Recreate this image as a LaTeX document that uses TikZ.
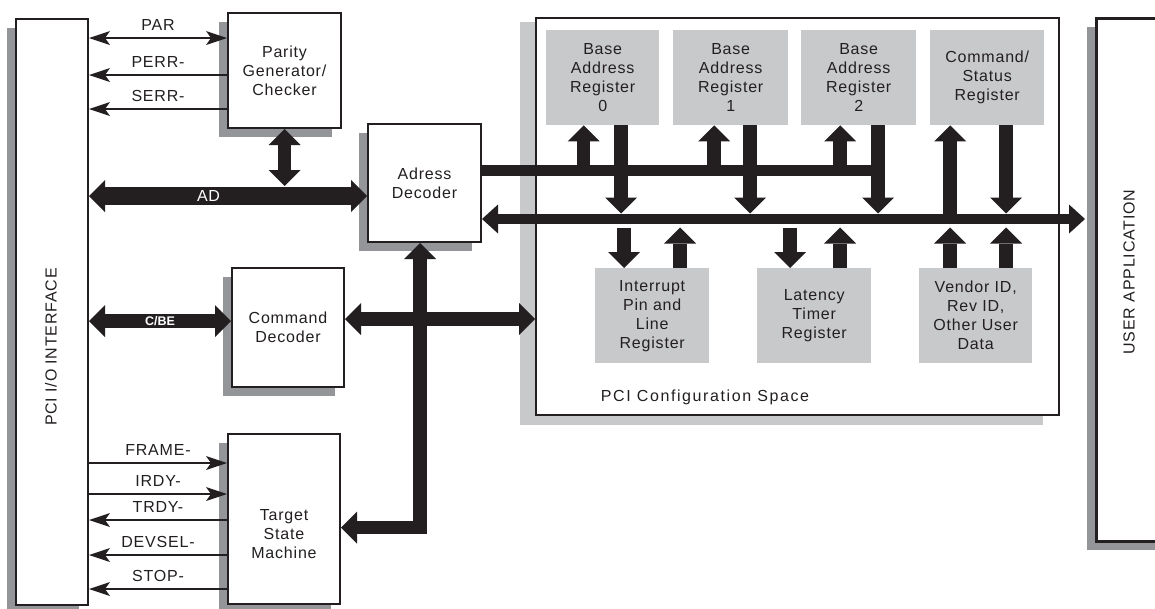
\documentclass[tikz,border=0pt]{standalone}
\usepackage{fontspec}
\setmainfont{Liberation Sans}
\newfontfamily\boxfont[LetterSpace=5]{Liberation Sans}
\newfontfamily\spacedfont[LetterSpace=10]{Liberation Sans}
\usetikzlibrary{arrows.meta,shadows}
\definecolor{ink}{HTML}{231F20}
\definecolor{shdark}{HTML}{939598}
\definecolor{shlight}{HTML}{C8C9CB}
\definecolor{regfill}{HTML}{C8C9CB}
\tikzset{
  Bk/.tip={Triangle[width=32pt,length=16pt,line width=0pt]},
  Lb/.tip={Triangle[width=29pt,length=16pt,line width=0pt]},
  Sg/.tip={Stealth[width=14pt,length=21pt,inset=5pt,line width=0pt]},
  txt/.style={text=ink, inner sep=0pt, align=center, font=\boxfont\fontsize{16pt}{19pt}\selectfont},
  box/.style={txt, draw=ink, line width=2pt, fill=white, anchor=north west,
    general shadow={fill=shdark, shadow xshift=-9pt, shadow yshift=-9pt}},
  frame/.style={draw=ink, line width=2pt, fill=white, anchor=north west, inner sep=0pt},
  reg/.style={txt, fill=regfill, anchor=north west},
  bus/.style={draw=ink, line width=13.5pt, line join=miter},
  adbus/.style={draw=ink, line width=18pt},
  lbus/.style={draw=ink, line width=10.5pt},
  sig/.style={draw=ink, line width=1.4pt},
  lab/.style={midway, above=6.5pt, inner sep=0pt, text=ink, font=\boxfont\fontsize{16pt}{19pt}\selectfont},
}
\begin{document}
\begin{tikzpicture}[x=1pt, y=-1pt]
\clip (0,0) rectangle (1155,608);
\fill[white] (0,0) rectangle (1155,608);

% bus reference lines
\coordinate (tb) at (0,170.5);
\coordinate (lb) at (0,219);
\coordinate (lbtop) at (0,213.5);
\coordinate (lbbot) at (0,227.5);
\coordinate (ad) at (0,196);
\coordinate (adtop) at (0,186);
\coordinate (cbe) at (0,321);
\coordinate (cfgb) at (0,319);
\coordinate (vb) at (420,527.5);

% functional blocks
\fill[shlight] (520,22) rectangle (1043,425);
\node[box, minimum width=72pt, minimum height=586pt] (pci) at (15,18) {};
\node[box, minimum width=113pt, minimum height=115pt] (par) at (227,12) {Parity\\Generator/\\Checker};
\node[box, minimum width=113pt, minimum height=118pt] (adec) at (367,123) {Adress\\Decoder};
\node[box, minimum width=112pt, minimum height=119pt] (cmd) at (231,267) {Command\\Decoder};
\node[box, minimum width=112pt, minimum height=170pt] (tsm) at (227,433) {};
\node[frame, minimum width=523pt, minimum height=397pt] (cfg) at (535,17) {};
\node[box, line width=2.5pt, minimum width=80pt, minimum height=523pt] (uapp) at (1095,17) {};

\node[txt, rotate=90] (pcilabel) at (51,347) {PCI I/O INTERFACE};
\node[txt, rotate=90] (ualabel) at (1129,272) {USER APPLICATION};
\node[txt] (tsmlabel) at ([yshift=-15pt]tsm.center) {Target\\State\\Machine};
\node[text=ink, inner sep=0pt, font=\spacedfont\fontsize{16pt}{19pt}\selectfont] (cfglabel) at (705,397) {PCI Configuration Space};

% configuration registers
\node[reg, minimum width=113pt, minimum height=95pt] (bar0) at (546,30) {Base\\Address\\Register\\0};
\node[reg, minimum width=115pt, minimum height=95pt] (bar1) at (673,30) {Base\\Address\\Register\\1};
\node[reg, minimum width=115pt, minimum height=95pt] (bar2) at (801,30) {Base\\Address\\Register\\2};
\node[reg, minimum width=114pt, minimum height=95pt] (cmdst) at (930,30) {Command/\\Status\\Register};
\node[reg, minimum width=114pt, minimum height=95pt] (intr) at (595,268) {Interrupt\\Pin and\\Line\\Register};
\node[reg, minimum width=114pt, minimum height=95pt] (lat) at (757,268) {Latency\\Timer\\Register};
\node[reg, minimum width=113pt, minimum height=95pt] (vend) at (919,268) {Vendor ID,\\Rev ID,\\Other User\\Data};

% internal buses
\draw[lbus] (adec.east |- tb) -- ([xshift=26pt]bar2.south |- tb);
\draw[lbus, Lb-Lb] (adec.east |- lb) -- ([xshift=-10pt]uapp.west |- lb);

\draw[bus, -Bk] ([xshift=-19pt]bar0.south |- tb) -- ([xshift=-19pt]bar0.south);
\draw[bus, -Bk] ([xshift=18.5pt]bar0.south) -- ([xshift=18.5pt]bar0.south |- lbtop);
\draw[bus, -Bk] ([xshift=-16.5pt]bar1.south |- tb) -- ([xshift=-16.5pt]bar1.south);
\draw[bus, -Bk] ([xshift=19.5pt]bar1.south) -- ([xshift=19.5pt]bar1.south |- lbtop);
\draw[bus, -Bk] ([xshift=-18.5pt]bar2.south |- tb) -- ([xshift=-18.5pt]bar2.south);
\draw[bus, -Bk] ([xshift=19.5pt]bar2.south) -- ([xshift=19.5pt]bar2.south |- lbtop);
\draw[bus, -Bk] ([xshift=-37pt]cmdst.south |- lb) -- ([xshift=-37pt]cmdst.south);
\draw[bus, -Bk] ([xshift=19pt]cmdst.south) -- ([xshift=19pt]cmdst.south |- lbtop);

\draw[bus, -Bk] ([xshift=-28pt]intr.north |- lbbot) -- ([xshift=-28pt]intr.north);
\draw[bus, -Bk] ([xshift=28pt]intr.north) -- ([xshift=28pt]intr.north |- lbbot);
\draw[bus, -Bk] ([xshift=-24pt]lat.north |- lbbot) -- ([xshift=-24pt]lat.north);
\draw[bus, -Bk] ([xshift=26pt]lat.north) -- ([xshift=26pt]lat.north |- lbbot);
\draw[bus, -Bk] ([xshift=-25.5pt]vend.north) -- ([xshift=-25.5pt]vend.north |- lbbot);
\draw[bus, -Bk] ([xshift=30.5pt]vend.north) -- ([xshift=30.5pt]vend.north |- lbbot);

% external buses
\draw[adbus, Bk-Bk] (pci.east |- ad) -- (adec.west |- ad)
  node[pos=0.43, text=white, inner sep=0pt, font=\boxfont\fontsize{16pt}{19pt}\selectfont] {AD};
\draw[bus, Bk-Bk] (par.south) -- (par.south |- adtop);
\draw[bus, Bk-Bk] (pci.east |- cbe) -- (cmd.west |- cbe)
  node[midway, text=white, inner sep=0pt, font=\bfseries\fontsize{12.5pt}{14pt}\selectfont] {C/BE};
\draw[bus, Bk-Bk] (cmd.east |- cfgb) -- (cfg.west |- cfgb);
\draw[bus, Bk-Bk] (tsm.east |- vb) -- (vb) -- (vb |- adec.south);

% parity signals
\draw[sig, Sg-Sg] ([yshift=32.5pt]par.west -| pci.east) -- ([yshift=32.5pt]par.west) node[lab] {PAR};
\draw[sig, Sg-] ([yshift=-4.5pt]par.west -| pci.east) -- ([yshift=-4.5pt]par.west) node[lab] {PERR-};
\draw[sig, Sg-] ([yshift=-38.5pt]par.west -| pci.east) -- ([yshift=-38.5pt]par.west) node[lab] {SERR-};

% target control signals
\draw[sig, -Sg] ([yshift=56pt]tsm.west -| pci.east) -- ([yshift=56pt]tsm.west) node[lab] {FRAME-};
\draw[sig, -Sg] ([yshift=25pt]tsm.west -| pci.east) -- ([yshift=25pt]tsm.west) node[lab] {IRDY-};
\draw[sig, Sg-] ([yshift=-1pt]tsm.west -| pci.east) -- ([yshift=-1pt]tsm.west) node[lab] {TRDY-};
\draw[sig, Sg-] ([yshift=-36pt]tsm.west -| pci.east) -- ([yshift=-36pt]tsm.west) node[lab] {DEVSEL-};
\draw[sig, Sg-] ([yshift=-70pt]tsm.west -| pci.east) -- ([yshift=-70pt]tsm.west) node[lab] {STOP-};
\end{tikzpicture}
\end{document}
